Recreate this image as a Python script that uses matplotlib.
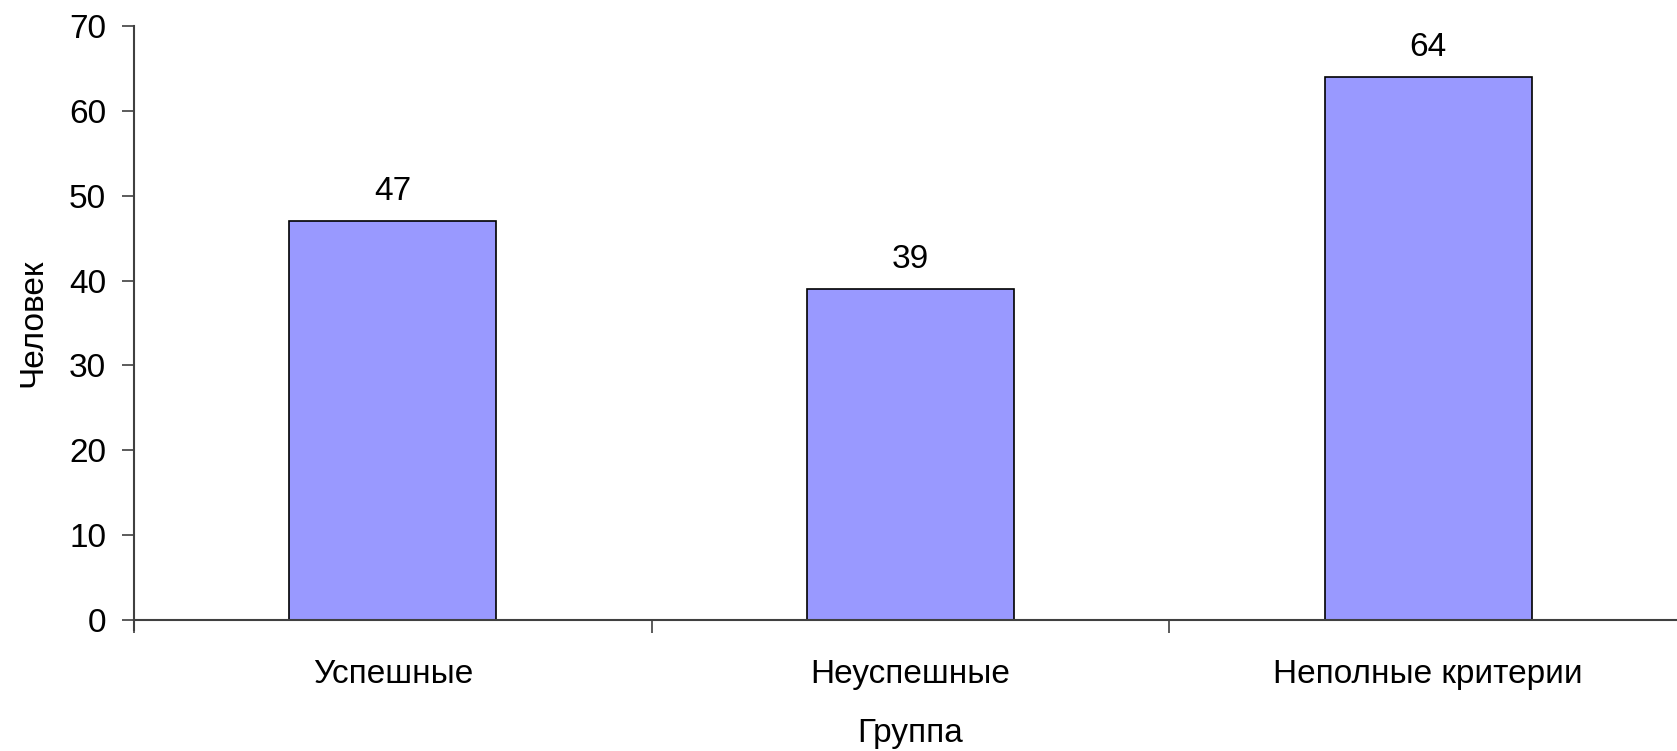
import matplotlib.pyplot as plt
import numpy as np

plt.rcParams['font.family'] = ['Liberation Sans', 'DejaVu Sans']
plt.rcParams['font.size'] = 24

# data
groups = ['Успешные', 'Неуспешные', 'Неполные критерии']
counts = [47, 39, 64]
y_ticks = [0, 10, 20, 30, 40, 50, 60, 70]

fig = plt.figure(figsize=(16.77, 7.51), dpi=100)
ax = fig.add_axes([0.0799, 0.1744, 0.926, 0.791])

x = np.arange(len(groups))
bars = ax.bar(x, counts, width=0.4, color='#9999FF', edgecolor='black', linewidth=1.2, zorder=2)

for b, v in zip(bars, counts):
    ax.annotate(str(v), (b.get_x() + b.get_width() / 2, v), xytext=(0, 10),
                textcoords='offset points', ha='center', va='bottom', fontsize=24)

ax.set_xlim(-0.5, 2.5)
ax.set_ylim(0, 70)
ax.set_yticks(y_ticks)
ax.set_xticks(x)
ax.set_xticklabels(groups)
ax.set_xticks([-0.5, 0.5, 1.5], minor=True)
ax.tick_params(axis='x', which='major', length=0, pad=28)
ax.tick_params(axis='x', which='minor', length=9, width=1.2, color='#404040', direction='out')
ax.tick_params(axis='y', length=9, width=1.2, color='#404040', direction='out', pad=11)

for s in ['top', 'right']:
    ax.spines[s].set_visible(False)
ax.spines['left'].set_color('#404040')
ax.spines['bottom'].set_color('#404040')
ax.spines['left'].set_linewidth(1.5)
ax.spines['bottom'].set_linewidth(1.5)
ax.spines['left'].set_bounds(-1.2, 70)

ax.set_xlabel('Группа', labelpad=20)
ax.set_ylabel('Человек', labelpad=15)

plt.savefig('out.png', dpi=100)
